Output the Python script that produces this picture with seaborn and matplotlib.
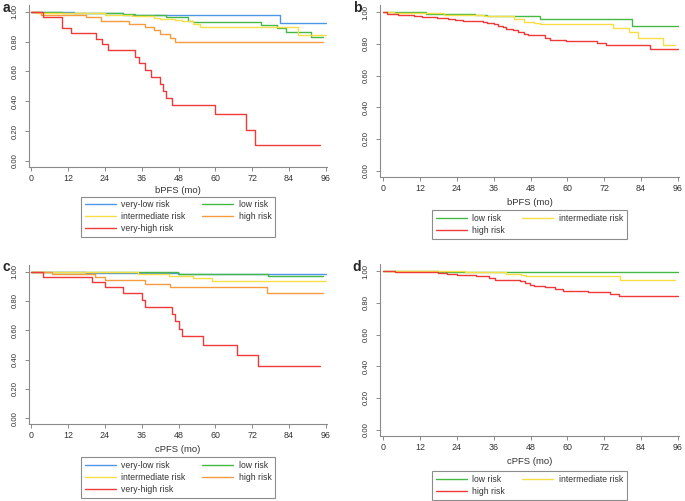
import numpy as np
import pandas as pd
import matplotlib
matplotlib.use("Agg")
import matplotlib.pyplot as plt
from matplotlib.lines import Line2D
import seaborn as sns

# step curves: time (months) where the survival changes, and the value after it
# panel a - bPFS, five groups
a_vlow_t = [0, 14, 30, 81, 96]
a_vlow_s = [1.0, 0.99, 0.975, 0.925, 0.925]
a_low_t = [0, 10, 30, 34, 44, 51, 52.8, 75, 80, 83, 91, 95]
a_low_s = [1.0, 0.99, 0.985, 0.975, 0.966, 0.94, 0.93, 0.908, 0.89, 0.864, 0.832, 0.832]
a_int_t = [0, 2, 24, 33, 40, 42, 47, 49, 52.8, 55, 87, 96]
a_int_s = [1.0, 0.99, 0.98, 0.97, 0.96, 0.95, 0.946, 0.935, 0.917, 0.90, 0.842, 0.842]
a_high_t = [0, 3.2, 18, 22.9, 32, 37, 40, 41.9, 45.1, 47, 95.1]
a_high_s = [1.0, 0.98, 0.962, 0.94, 0.917, 0.897, 0.875, 0.85, 0.823, 0.797, 0.797]
a_vhigh_t = [0, 4, 10, 13, 21, 23, 25, 34, 35, 37, 39, 42, 43, 44, 46, 60, 70, 73, 94]
a_vhigh_s = [1.0, 0.962, 0.89, 0.857, 0.819, 0.783, 0.743, 0.70, 0.655, 0.611, 0.566,
             0.517, 0.472, 0.425, 0.374, 0.313, 0.208, 0.107, 0.107]

# panel b - bPFS, three groups
b_low_t = [0, 14, 30, 34, 51, 81, 96]
b_low_s = [1.0, 0.99, 0.981, 0.973, 0.956, 0.911, 0.911]
b_int_t = [0, 3.5, 20, 33, 42.5, 46, 49, 51, 75, 80, 83, 91, 95]
b_int_s = [1.0, 0.992, 0.985, 0.975, 0.954, 0.94, 0.93, 0.925, 0.898, 0.873, 0.836, 0.794, 0.794]
b_high_t = [0, 1.3, 5, 10, 12.7, 17.5, 21, 23.5, 26, 31.6, 32.7, 34, 36, 37.5, 39, 40,
            42.4, 44, 46, 47.3, 52.7, 54.5, 59.7, 69.7, 72.7, 86.8, 96]
b_high_s = [1.0, 0.987, 0.981, 0.977, 0.971, 0.965, 0.958, 0.952, 0.946, 0.942, 0.935,
            0.93, 0.923, 0.912, 0.904, 0.894, 0.885, 0.877, 0.862, 0.854, 0.838, 0.827,
            0.815, 0.804, 0.794, 0.769, 0.769]

# panel c - cPFS, five groups
c_vlow_t = [0, 18, 48, 77, 96]
c_vlow_s = [1.0, 0.993, 0.986, 0.982, 0.982]
c_low_t = [0, 27, 47.8, 77, 95.1]
c_low_s = [1.0, 0.995, 0.984, 0.968, 0.968]
c_int_t = [0, 34.8, 45, 52.8, 59, 96]
c_int_s = [1.0, 0.986, 0.968, 0.957, 0.934, 0.934]
c_high_t = [0, 6.9, 20.7, 24, 37, 45.1, 76.7, 95]
c_high_s = [1.0, 0.984, 0.963, 0.945, 0.918, 0.894, 0.857, 0.857]
c_vhigh_t = [0, 4, 20, 24, 30, 36, 37, 46, 47, 48, 49, 56, 67, 74, 94]
c_vhigh_s = [1.0, 0.964, 0.928, 0.892, 0.853, 0.808, 0.761, 0.711, 0.661, 0.609, 0.558,
             0.501, 0.429, 0.359, 0.359]

# panel d - cPFS, three groups
d_low_t = [0, 18, 96]
d_low_s = [1.0, 0.994, 0.994]
d_int_t = [0, 26.6, 40, 45, 46.5, 77.1, 95]
d_int_s = [1.0, 0.994, 0.983, 0.975, 0.969, 0.944, 0.944]
d_high_t = [0, 4, 18, 20.8, 24, 30.3, 34.6, 36.5, 44.6, 46.2, 47.8, 49, 52.7, 56, 58.7,
            66.8, 73.8, 76.8, 96]
d_high_s = [1.0, 0.992, 0.988, 0.981, 0.975, 0.967, 0.956, 0.944, 0.935, 0.925, 0.915,
            0.906, 0.898, 0.887, 0.877, 0.867, 0.856, 0.842, 0.842]

x_ticks = [0, 12, 24, 36, 48, 60, 72, 84, 96]
y_ticks = [0.0, 0.2, 0.4, 0.6, 0.8, 1.0]

BLUE, GREEN, YELLOW, ORANGE, RED = "#4f95e8", "#45b845", "#f7de45", "#f89a3e", "#f03a3a"
colors5 = {"very-low risk": BLUE, "low risk": GREEN, "intermediate risk": YELLOW,
           "high risk": ORANGE, "very-high risk": RED}
colors3 = {"low risk": GREEN, "intermediate risk": YELLOW, "high risk": RED}

sns.set_style("white")
plt.rcParams["font.family"] = ["Liberation Sans", "DejaVu Sans"]

W, H = 685, 501
fig = plt.figure(figsize=(W / 100, H / 100), dpi=100)


def px_axes(l, t, r, b):
    return fig.add_axes([l / W, 1 - b / H, (r - l) / W, (b - t) / H])


def curves_df(curves):
    rows = []
    for name, t, s in curves:
        for ti, si in zip(t, s):
            rows.append({"group": name, "time": ti, "surv": si})
    return pd.DataFrame(rows)


panels = [
    dict(box=(29, 5, 327, 167), x0=31, letter="a", lx=6, ly=8, xlabel="bPFS (mo)", lab_y=190.5,
         leg_top=196.5, pal=colors5,
         curves=[("very-low risk", a_vlow_t, a_vlow_s), ("low risk", a_low_t, a_low_s),
                 ("intermediate risk", a_int_t, a_int_s), ("high risk", a_high_t, a_high_s),
                 ("very-high risk", a_vhigh_t, a_vhigh_s)],
         leg=["very-low risk", "intermediate risk", "very-high risk", "low risk", "high risk"]),
    dict(box=(380, 5, 679, 177), x0=383, letter="b", lx=357, ly=8, xlabel="bPFS (mo)", lab_y=202.5,
         leg_top=210, pal=colors3,
         curves=[("low risk", b_low_t, b_low_s), ("intermediate risk", b_int_t, b_int_s),
                 ("high risk", b_high_t, b_high_s)],
         leg=["low risk", "high risk", "intermediate risk"]),
    dict(box=(29, 265, 327, 424), x0=31, letter="c", lx=6, ly=267, xlabel="cPFS (mo)", lab_y=449.5,
         leg_top=457, pal=colors5,
         curves=[("very-low risk", c_vlow_t, c_vlow_s), ("low risk", c_low_t, c_low_s),
                 ("intermediate risk", c_int_t, c_int_s), ("high risk", c_high_t, c_high_s),
                 ("very-high risk", c_vhigh_t, c_vhigh_s)],
         leg=["very-low risk", "intermediate risk", "very-high risk", "low risk", "high risk"]),
    dict(box=(380, 264, 679, 436), x0=383, letter="d", lx=357, ly=267, xlabel="cPFS (mo)", lab_y=461.5,
         leg_top=471, pal=colors3,
         curves=[("low risk", d_low_t, d_low_s), ("intermediate risk", d_int_t, d_int_s),
                 ("high risk", d_high_t, d_high_s)],
         leg=["low risk", "high risk", "intermediate risk"]),
]

ppm = 295 / 96  # pixels per month

for p in panels:
    l, t, r, b = p["box"]
    ax = px_axes(l, t, r, b)
    df = curves_df(p["curves"])
    names = [c[0] for c in p["curves"]]
    sns.lineplot(data=df, x="time", y="surv", hue="group", hue_order=names,
                 palette=p["pal"], estimator=None, drawstyle="steps-post",
                 linewidth=1.0, legend=False, ax=ax)

    ax.set_xlim((l - p["x0"]) / ppm, (r - p["x0"]) / ppm)
    ax.set_ylim(-0.04, 1.045)
    ax.set_xticks(x_ticks)
    ax.set_yticks(y_ticks)
    ax.set_yticklabels([f"{v:.2f}" for v in y_ticks], rotation=90, va="center")
    for side in ["top", "right"]:
        ax.spines[side].set_visible(False)
    for side in ["left", "bottom"]:
        ax.spines[side].set_color("#8a8a8a")
        ax.spines[side].set_linewidth(0.8)
    ax.tick_params(axis="both", length=2.9, width=0.7, color="#8a8a8a",
                   labelcolor="#333333", direction="out")
    ax.tick_params(axis="x", pad=2.2, bottom=True, labelsize=6.4)
    ax.tick_params(axis="y", pad=4.5, left=True, labelsize=5.6)

    ax.set_ylabel("")
    ax.set_xlabel(p["xlabel"], fontsize=6.8, color="#333333")
    ax.xaxis.set_label_coords(0.5, (b - p["lab_y"]) / (b - t))
    ax.xaxis.label.set_va("center")

    handles = [Line2D([], [], color=p["pal"][n], linewidth=1.0) for n in p["leg"]]
    leg = ax.legend(handles, p["leg"], loc="upper center", ncol=2,
                    bbox_to_anchor=((l + r) / 2 / W, 1 - p["leg_top"] / H),
                    bbox_transform=fig.transFigure, frameon=True, fancybox=False,
                    fontsize=6.2, handlelength=3.6, handletextpad=0.6,
                    columnspacing=2.0, labelspacing=0.35, borderpad=0.45,
                    borderaxespad=0)
    leg.get_frame().set_edgecolor("#707070")
    leg.get_frame().set_linewidth(0.8)
    for txt in leg.get_texts():
        txt.set_color("#333333")

    fig.text(p["lx"] / W, 1 - p["ly"] / H, p["letter"], fontsize=10, fontweight="bold",
             ha="center", va="center")

fig.savefig("out.png", dpi=100)
